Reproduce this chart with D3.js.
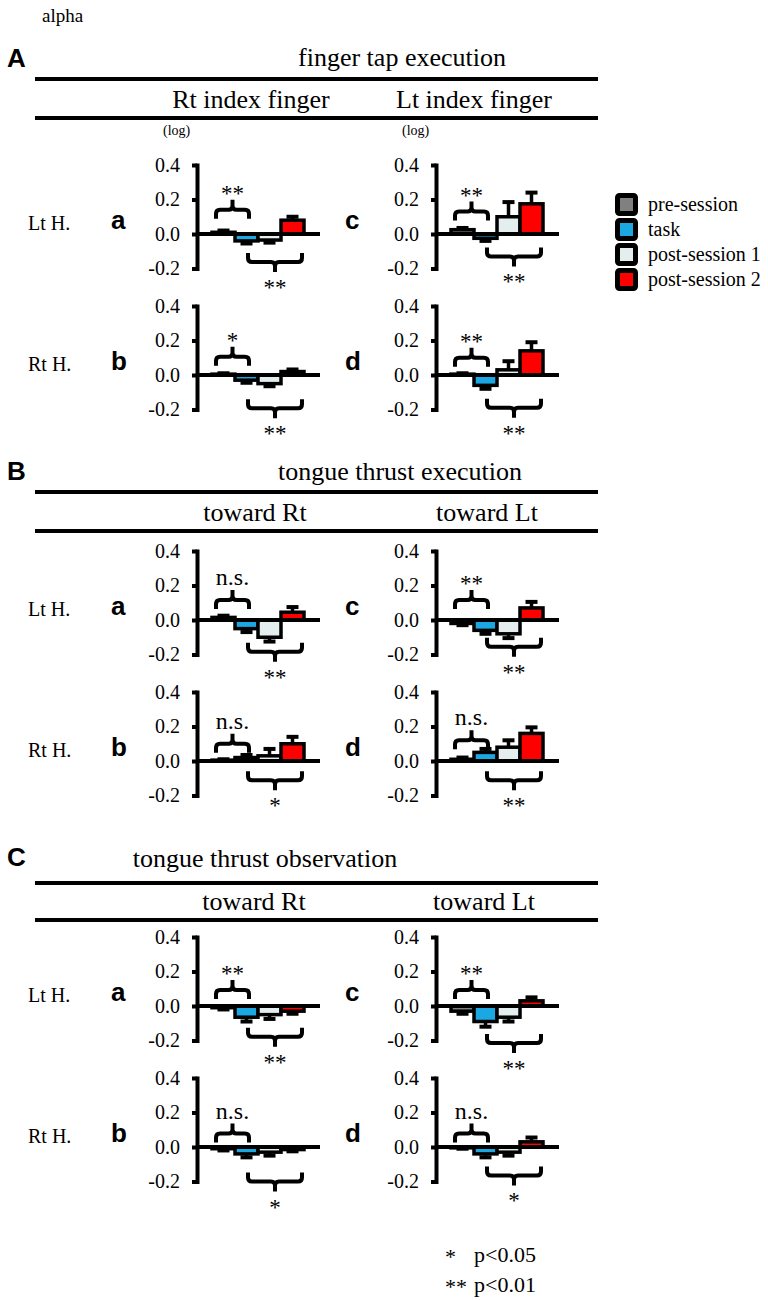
<!DOCTYPE html>
<html><head><meta charset="utf-8">
<script src="https://cdn.jsdelivr.net/npm/d3@7"></script>
<style>body{margin:0;background:#fff}svg{display:block}</style>
</head><body>
<script>
// ---------- data ----------
const categories = ["pre-session", "task", "post-session 1", "post-session 2"];
const tickValues = [0.4, 0.2, 0.0, -0.2];
const tickLabels = ["0.4", "0.2", "0.0", "-0.2"];
const sectionLetters = ["A", "B", "C"];
const sectionTitles = ["finger tap execution", "tongue thrust execution", "tongue thrust observation"];
const columnTitles = [["Rt index finger", "Lt index finger"], ["toward Rt", "toward Lt"], ["toward Rt", "toward Lt"]];
const rowLabels = ["Lt H.", "Rt H."];
const panelLetters = [["a", "c"], ["b", "d"]];
const footnoteMarks = ["*", "**"];
const footnoteTexts = ["p<0.05", "p<0.01"];

// A: finger tap execution
const meanAa = [0.01, -0.04, -0.035, 0.08],   semAa = [0.01, 0.015, 0.015, 0.02];
const meanAb = [0.005, -0.03, -0.05, 0.02],   semAb = [0.005, 0.015, 0.015, 0.012];
const meanAc = [0.025, -0.025, 0.1, 0.175],   semAc = [0.01, 0.015, 0.085, 0.065];
const meanAd = [0.005, -0.06, 0.03, 0.14],    semAd = [0.005, 0.02, 0.05, 0.05];
// B: tongue thrust execution
const meanBa = [0.015, -0.05, -0.1, 0.045],   semBa = [0.01, 0.02, 0.025, 0.03];
const meanBb = [0.005, 0.02, 0.03, 0.1],      semBb = [0.005, 0.015, 0.04, 0.04];
const meanBc = [-0.02, -0.06, -0.08, 0.07],   semBc = [0.01, 0.02, 0.025, 0.035];
const meanBd = [0.01, 0.05, 0.08, 0.16],      semBd = [0.01, 0.02, 0.04, 0.035];
// C: tongue thrust observation
const meanCa = [-0.01, -0.065, -0.05, -0.03], semCa = [0.01, 0.025, 0.025, 0.015];
const meanCb = [-0.01, -0.04, -0.03, -0.015], semCb = [0.01, 0.02, 0.02, 0.01];
const meanCc = [-0.03, -0.09, -0.065, 0.03],  semCc = [0.015, 0.03, 0.025, 0.02];
const meanCd = [-0.005, -0.04, -0.03, 0.03],  semCd = [0.005, 0.02, 0.02, 0.025];

// significance labels [pre vs task, task vs post]
const sigAa = ["**", "**"], sigAb = ["*", "**"], sigAc = ["**", "**"], sigAd = ["**", "**"];
const sigBa = ["n.s.", "**"], sigBb = ["n.s.", "*"], sigBc = ["**", "**"], sigBd = ["n.s.", "**"];
const sigCa = ["**", "**"], sigCb = ["n.s.", "*"], sigCc = ["**", "**"], sigCd = ["n.s.", "*"];
// bracket levels (value units) [upper, lower]
const levAa = [0.14, -0.163], levAb = [0.106, -0.193], levAc = [0.13, -0.13], levAd = [0.1, -0.19];
const levBa = [0.116, -0.184], levBb = [0.1, -0.112], levBc = [0.116, -0.155], levBd = [0.12, -0.112];
const levCa = [0.093, -0.178], levCb = [0.078, -0.2], levCc = [0.093, -0.215], levCd = [0.078, -0.165];

const panels = [
  {s:0,r:0,c:0,mean:meanAa,sem:semAa,sig:sigAa,lev:levAa},
  {s:0,r:1,c:0,mean:meanAb,sem:semAb,sig:sigAb,lev:levAb},
  {s:0,r:0,c:1,mean:meanAc,sem:semAc,sig:sigAc,lev:levAc},
  {s:0,r:1,c:1,mean:meanAd,sem:semAd,sig:sigAd,lev:levAd},
  {s:1,r:0,c:0,mean:meanBa,sem:semBa,sig:sigBa,lev:levBa},
  {s:1,r:1,c:0,mean:meanBb,sem:semBb,sig:sigBb,lev:levBb},
  {s:1,r:0,c:1,mean:meanBc,sem:semBc,sig:sigBc,lev:levBc},
  {s:1,r:1,c:1,mean:meanBd,sem:semBd,sig:sigBd,lev:levBd},
  {s:2,r:0,c:0,mean:meanCa,sem:semCa,sig:sigCa,lev:levCa},
  {s:2,r:1,c:0,mean:meanCb,sem:semCb,sig:sigCb,lev:levCb},
  {s:2,r:0,c:1,mean:meanCc,sem:semCc,sig:sigCc,lev:levCc},
  {s:2,r:1,c:1,mean:meanCd,sem:semCd,sig:sigCd,lev:levCd}
];

// ---------- layout & style ----------
const colors = d3.scaleOrdinal().domain(categories).range(["#808080", "#1ba7e2", "#e4eeee", "#ff0000"]);
const SERIF = "'Liberation Serif','Times New Roman',serif";
const SANS = "'Liberation Sans',Arial,sans-serif";
const sections = [
  {letterY:58, titleX:402, titleY:66, line1:79, subY:108, line2:118, zeros:[234,375], subX:[251,474], log:true},
  {letterY:471, titleX:400, titleY:480, line1:492, subY:521, line2:531, zeros:[620,761], subX:[255,487], log:false},
  {letterY:857, titleX:265, titleY:867, line1:883, subY:910, line2:920, zeros:[1006,1147], subX:[254,484], log:false}
];
const axisX = [197, 436];
const pxPerUnit = 172.5;

const svg = d3.select("body").append("svg").attr("width", 768).attr("height", 1300);

svg.append("text").attr("x", 42).attr("y", 22).attr("font-family", SERIF).attr("font-size", 19).text("alpha");

sections.forEach((sec, si) => {
  svg.append("text").attr("x", 7).attr("y", sec.letterY + 9).attr("font-family", SANS)
    .attr("font-weight", "bold").attr("font-size", 26).text(sectionLetters[si]);
  svg.append("text").attr("x", sec.titleX).attr("y", sec.titleY).attr("text-anchor", "middle")
    .attr("font-family", SERIF).attr("font-size", 26).text(sectionTitles[si]);
  [sec.line1, sec.line2].forEach(y => svg.append("line").attr("x1", 35).attr("x2", 598)
    .attr("y1", y).attr("y2", y).attr("stroke", "#000").attr("stroke-width", 4));
  columnTitles[si].forEach((t, ci) => svg.append("text").attr("x", sec.subX[ci]).attr("y", sec.subY)
    .attr("text-anchor", "middle").attr("font-family", SERIF).attr("font-size", 26).text(t));
  if (sec.log) axisX.forEach(ax => svg.append("text").attr("x", ax - 34).attr("y", 135)
    .attr("font-family", SERIF).attr("font-size", 14).text("(log)"));
  sec.zeros.forEach((z, ri) => {
    svg.append("text").attr("x", 28).attr("y", z - 4).attr("font-family", SERIF)
      .attr("font-size", 20).text(rowLabels[ri]);
    axisX.forEach((ax, ci) => svg.append("text").attr("x", ax - (ci === 0 ? 86 : 91)).attr("y", z - 5)
      .attr("font-family", SANS).attr("font-weight", "bold").attr("font-size", 26).text(panelLetters[ri][ci]));
  });
});

function bracketPath(x1, x2, y, e) {
  // e: direction of the end legs (+1 down, -1 up)
  const r = 4, xm = (x1 + x2) / 2, leg = 9, nub = 10;
  return `M${x1},${y + e*leg} L${x1},${y + e*r} Q${x1},${y} ${x1 + r},${y} L${xm - r},${y} Q${xm},${y} ${xm},${y - e*r} L${xm},${y - e*nub}` +
         ` M${xm},${y - e*r} Q${xm},${y} ${xm + r},${y} L${x2 - r},${y} Q${x2},${y} ${x2},${y + e*r} L${x2},${y + e*leg}`;
}

panels.forEach(p => {
  const z = sections[p.s].zeros[p.r];
  const ax = axisX[p.c];
  const y = d3.scaleLinear().domain([-0.2, 0.4]).range([z + 0.2 * pxPerUnit, z - 0.4 * pxPerUnit]);
  const x = d3.scaleBand().domain(categories).range([ax + 15, ax + 107]).padding(0);
  const g = svg.append("g");

  // bars
  g.selectAll("rect.bar").data(categories).join("rect").attr("class", "bar")
    .attr("x", d => x(d)).attr("width", x.bandwidth())
    .attr("y", (d, i) => y(Math.max(0, p.mean[i])))
    .attr("height", (d, i) => Math.abs(y(p.mean[i]) - y(0)))
    .attr("fill", d => colors(d)).attr("stroke", "#000").attr("stroke-width", 3.5);
  // error bars (one-sided)
  categories.forEach((d, i) => {
    const v = p.mean[i], s = p.sem[i] * (v >= 0 ? 1 : -1);
    const cx = x(d) + x.bandwidth() / 2;
    g.append("line").attr("x1", cx).attr("x2", cx).attr("y1", y(v)).attr("y2", y(v + s))
      .attr("stroke", "#000").attr("stroke-width", 3.5);
    g.append("line").attr("x1", cx - 6).attr("x2", cx + 6).attr("y1", y(v + s)).attr("y2", y(v + s))
      .attr("stroke", "#000").attr("stroke-width", 4);
  });
  // zero baseline
  g.append("line").attr("x1", ax).attr("x2", ax + 123).attr("y1", y(0)).attr("y2", y(0))
    .attr("stroke", "#000").attr("stroke-width", 4);
  // y axis
  const axis = d3.axisLeft(y).tickValues(tickValues).tickFormat((d, i) => tickLabels[i])
    .tickSize(5).tickSizeOuter(0).tickPadding(12);
  const ag = g.append("g").attr("transform", `translate(${ax},0)`).call(axis);
  ag.select(".domain").attr("stroke-width", 4).attr("stroke-linecap", "square");
  ag.selectAll(".tick line").attr("stroke-width", 4);
  ag.selectAll(".tick text").attr("font-family", SERIF).attr("font-size", 20).attr("fill", "#000");

  // brackets
  const up = { x1: x(categories[0]) + 4, x2: x(categories[1]) + 14, y: y(p.lev[0]), e: 1 };
  const lo = { x1: x(categories[1]) + 13, x2: x(categories[3]) + 21, y: y(p.lev[1]), e: -1 };
  [up, lo].forEach((b, k) => {
    g.append("path").attr("d", bracketPath(b.x1, b.x2, b.y, b.e)).attr("fill", "none")
      .attr("stroke", "#000").attr("stroke-width", 4);
    const lbl = p.sig[k];
    const cy = b.y + (k === 0 ? -20 : 22);
    const ns = lbl === "n.s.";
    g.append("text").attr("x", (b.x1 + b.x2) / 2).attr("y", ns ? cy + 5 : cy + 11).attr("text-anchor", "middle")
      .attr("font-family", SERIF).attr("font-size", ns ? 24 : 23).text(lbl);
  });
});

// legend
const lg = svg.append("g").attr("transform", "translate(615,193)");
categories.forEach((c, i) => {
  lg.append("rect").attr("x", 2.5).attr("y", i * 25 + 2.5).attr("width", 18).attr("height", 18).attr("rx", 2)
    .attr("fill", colors(c)).attr("stroke", "#000").attr("stroke-width", 5);
  lg.append("text").attr("x", 33).attr("y", i * 25 + 18).attr("font-family", SERIF)
    .attr("font-size", 20).text(c);
});

// footnote
footnoteMarks.forEach((m, i) => {
  svg.append("text").attr("x", 445).attr("y", 1264 + i * 30).attr("font-family", SERIF).attr("font-size", 22).text(m);
  svg.append("text").attr("x", 474).attr("y", 1262 + i * 30).attr("font-family", SERIF).attr("font-size", 22).text(footnoteTexts[i]);
});
</script>
</body></html>
